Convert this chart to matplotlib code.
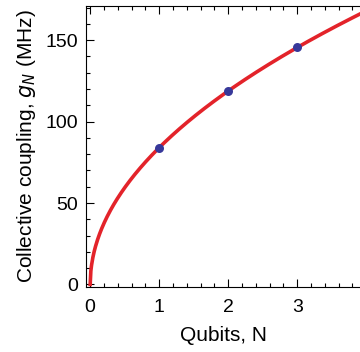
import numpy as np
import matplotlib
matplotlib.use("Agg")
from matplotlib import pyplot as plt
from matplotlib.ticker import MultipleLocator

# measured collective coupling for N qubits
qubits = [1, 2, 3]
coupling = [84, 119, 146]
# single-qubit coupling used for the sqrt(N) curve
g1 = 84.0
n_max = 3.91

plt.rcParams["font.family"] = ["Liberation Sans", "DejaVu Sans"]

fig = plt.figure(figsize=(3.6, 3.52), dpi=100)
ax = fig.add_axes([0.239, 0.185, 0.761, 0.798])

n = np.linspace(0, n_max, 400)
ax.plot(n, g1 * np.sqrt(n), color="#e3232a", lw=2.6, zorder=2)
ax.scatter(qubits, coupling, s=42, color="#37389a", zorder=3, linewidths=0)

ax.set_xlim(-0.06, n_max)
ax.set_ylim(-1.5, 171)
ax.xaxis.set_major_locator(MultipleLocator(1))
ax.xaxis.set_minor_locator(MultipleLocator(0.2))
ax.yaxis.set_major_locator(MultipleLocator(50))
ax.yaxis.set_minor_locator(MultipleLocator(10))
ax.tick_params(which="both", direction="in", top=True, right=False, labelsize=14, width=0.8)
ax.tick_params(axis="x", which="major", length=6, pad=9)
ax.tick_params(axis="y", which="major", length=6, pad=6)
ax.tick_params(which="minor", length=3)
ax.spines["right"].set_visible(False)
for s in ["left", "bottom", "top"]:
    ax.spines[s].set_linewidth(0.8)

ax.set_xlabel("Qubits, N", fontsize=15, labelpad=7)
ax.set_ylabel("Collective coupling, $g_N$ (MHz)", fontsize=15, labelpad=5)

fig.savefig("out.png", dpi=100)
